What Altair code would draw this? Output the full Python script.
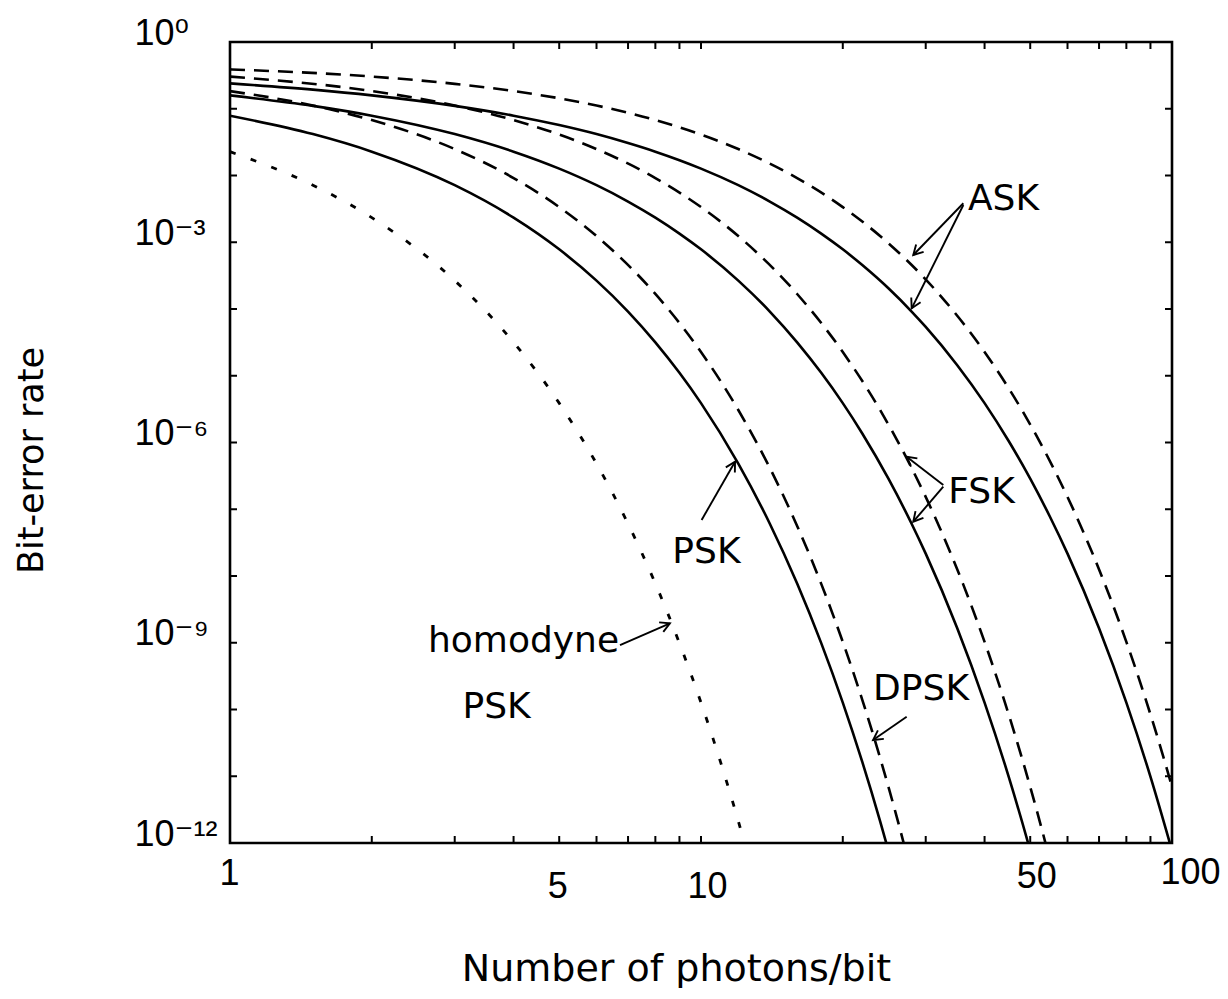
import altair as alt
import pandas as pd

W, H = 942, 801
FONT = "DejaVu Sans"
NUM_FONT = "Liberation Sans, DejaVu Sans"

# ---- curves: photons/bit (N) and log10(bit-error rate) ----
homodyne_psk_n = [1, 1.5, 2, 3, 4, 5, 6, 7, 8, 9, 10, 11, 12, 13]
homodyne_psk_log = [-1.643, -2.145, -2.631, -3.575, -4.499, -5.41, -6.317, -7.217,
                    -8.113, -9.006, -9.896, -10.785, -11.671, -12.557]

psk_n = [1, 1.5, 2, 3, 4, 5, 6, 7, 8, 9, 10, 12, 14, 16, 18, 20, 22, 24, 26]
psk_log = [-1.104, -1.380, -1.643, -2.145, -2.631, -3.106, -3.575, -4.038, -4.499,
           -4.956, -5.41, -6.317, -7.217, -8.113, -9.006, -9.896, -10.785, -11.671, -12.557]

fsk_n = [1, 1.5, 2, 3, 4, 5, 6, 7, 8, 9, 10, 12, 14, 16, 18, 20, 22, 25, 28, 30,
         35, 40, 45, 50, 55]
fsk_log = [-0.800, -0.957, -1.104, -1.380, -1.643, -1.897, -2.145, -2.390, -2.631,
           -2.870, -3.106, -3.575, -4.038, -4.499, -4.956, -5.41, -5.865, -6.542,
           -7.217, -7.665, -8.783, -9.896, -11.006, -12.114, -13.22]

ask_n = [1, 1.5, 2, 3, 4, 5, 6, 7, 8, 9, 10, 12, 14, 16, 18, 20, 22, 25, 28, 30,
         35, 40, 45, 50, 55, 60, 70, 80, 90, 100]
ask_log = [-0.620, -0.714, -0.800, -0.957, -1.104, -1.245, -1.380, -1.514, -1.643,
           -1.771, -1.897, -2.145, -2.390, -2.631, -2.870, -3.106, -3.342, -3.690,
           -4.038, -4.268, -4.842, -5.41, -5.978, -6.542, -7.105, -7.665, -8.783,
           -9.896, -11.006, -12.114]

dpsk_n = [1, 1.5, 2, 3, 4, 5, 6, 8, 10, 12, 14, 16, 18, 20, 22, 24, 26, 28]
dpsk_log = [-0.735, -0.952, -1.170, -1.604, -2.038, -2.473, -2.907, -3.775, -4.644,
            -5.513, -6.381, -7.250, -8.118, -8.987, -9.855, -10.724, -11.593, -12.461]

fsk_async_n = [1, 2, 3, 4, 6, 8, 10, 12, 16, 20, 24, 28, 32, 36, 40, 44, 48, 52, 56]
fsk_async_log = [-0.518, -0.735, -0.952, -1.170, -1.604, -2.038, -2.473, -2.907,
                 -3.775, -4.644, -5.513, -6.381, -7.250, -8.118, -8.987, -9.855,
                 -10.724, -11.593, -12.461]

ask_async_n = [1, 2, 3, 4, 6, 8, 12, 16, 20, 24, 32, 40, 48, 56, 64, 72, 80, 88, 96, 100]
ask_async_log = [-0.410, -0.518, -0.627, -0.735, -0.952, -1.170, -1.604, -2.038,
                 -2.473, -2.907, -3.775, -4.644, -5.513, -6.381, -7.250, -8.118,
                 -8.987, -9.855, -10.724, -11.158]

# ---- annotations ----
ann_text = ["ASK", "FSK", "PSK", "homodyne", "PSK", "DPSK"]
ann_n = [43.88, 39.41, 10.27, 4.20, 3.68, 29.32]
ann_log = [-2.517, -6.906, -7.805, -9.134, -10.127, -9.858]

arrow_tail_n = [36.06, 36.06, 32.69, 32.69, 10.03, 6.73, 27.33]
arrow_tail_log = [-2.416, -2.442, -6.637, -6.662, -7.161, -9.034, -10.108]
arrow_head_n = [28.23, 28.01, 27.33, 28.23, 11.81, 8.59, 23.19]
arrow_head_log = [-3.191, -3.990, -6.213, -7.187, -6.288, -8.709, -10.457]
arrow_angle = [224.0, 206.5, 307.7, 220.6, 29.7, 66.5, 235.3]

# ---- axes ----
x_label_vals = [1, 5, 10, 50, 100]
x_label_dx = [-1, -2, 6, 6, 18]
x_label_dy = [13, 26, 26, 16, 12]
y_label_vals = [1, 1e-3, 1e-6, 1e-9, 1e-12]
y_label_text = ["10⁰", "10⁻³", "10⁻⁶", "10⁻⁹", "10⁻¹²"]
x_minor_ticks = [2, 3, 4, 5, 6, 7, 8, 9, 10, 20, 30, 40, 50, 60, 70, 80, 90]
y_decade_ticks = [1e-1, 1e-2, 1e-3, 1e-4, 1e-5, 1e-6, 1e-7, 1e-8, 1e-9, 1e-10, 1e-11]


def curve_frame(name, ns, logs):
    return pd.DataFrame({"series": name, "n": ns, "logber": logs})


solid_df = pd.concat([curve_frame("PSK", psk_n, psk_log),
                      curve_frame("FSK", fsk_n, fsk_log),
                      curve_frame("ASK", ask_n, ask_log)])
dashed_df = pd.concat([curve_frame("DPSK", dpsk_n, dpsk_log),
                       curve_frame("FSK async", fsk_async_n, fsk_async_log),
                       curve_frame("ASK async", ask_async_n, ask_async_log)])
dotted_df = curve_frame("homodyne PSK", homodyne_psk_n, homodyne_psk_log)

ann_df = pd.DataFrame({"text": ann_text, "n": ann_n, "logber": ann_log})
arrow_df = pd.DataFrame({"n": arrow_tail_n, "logber": arrow_tail_log,
                         "n2": arrow_head_n, "logber2": arrow_head_log,
                         "angle": arrow_angle})
xt_df = pd.DataFrame({"n": x_minor_ticks})
yt_df = pd.DataFrame({"ber": y_decade_ticks})

xscale = alt.Scale(type="log", domain=[1, 100], nice=False)
yscale = alt.Scale(type="log", domain=[1e-12, 1], nice=False)


def cond(vals, offs, default):
    return {"condition": [{"test": f"datum.value == {v}", "value": o}
                          for v, o in zip(vals, offs)],
            "value": default}


y_expr = "[" + ",".join(f"'{t}'" for t in y_label_text) + "][round(-log(datum.value)/LN10/3)]"

x_axis = alt.Axis(values=x_label_vals, format="d", ticks=False, tickSize=0, domain=False,
                  grid=False, labelFont=NUM_FONT, labelFontSize=36, labelColor="black",
                  labelBaseline="top", labelFlush=False, labelOverlap=False,
                  labelPadding=cond(x_label_vals, x_label_dy, 13),
                  labelOffset=cond(x_label_vals, x_label_dx, 0),
                  title="Number of photons/bit", titleFont=FONT, titleFontSize=38,
                  titleFontWeight="normal", titleColor="black", titleX=446, titleY=137,
                  titleBaseline="alphabetic", titleAlign="center")
y_axis = alt.Axis(values=y_label_vals, labelExpr=y_expr, ticks=False, tickSize=0,
                  domain=False, grid=False, labelFont=NUM_FONT, labelFontSize=36,
                  labelColor="black", labelAlign="left", labelBaseline="middle",
                  labelPadding=96, labelOffset=-9, labelFlush=False, labelOverlap=False,
                  title="Bit-error rate", titleFont=FONT, titleFontSize=35,
                  titleFontWeight="normal", titleColor="black", titleX=-199, titleY=418,
                  titleAngle=270, titleBaseline="middle", titleAlign="center")


def X(field):
    return alt.X(field, scale=xscale, axis=x_axis)


def Y(field):
    return alt.Y(field, scale=yscale, axis=y_axis)


solid = alt.Chart(solid_df).transform_calculate(ber="pow(10, datum.logber)").mark_line(
    color="black", strokeWidth=2.6, clip=True, interpolate="monotone"
).encode(x=X("n:Q"), y=Y("ber:Q"), detail="series:N")

dashed = alt.Chart(dashed_df).transform_calculate(ber="pow(10, datum.logber)").mark_line(
    color="black", strokeWidth=2.6, clip=True, interpolate="monotone", strokeDash=[15, 9]
).encode(x=X("n:Q"), y=Y("ber:Q"), detail="series:N")

dotted = alt.Chart(dotted_df).transform_calculate(ber="pow(10, datum.logber)").mark_line(
    color="black", strokeWidth=2.8, clip=True, interpolate="monotone", strokeDash=[6, 16]
).encode(x=X("n:Q"), y=Y("ber:Q"))

labels = alt.Chart(ann_df).transform_calculate(ber="pow(10, datum.logber)").mark_text(
    font=FONT, fontSize=36, color="black", align="center", baseline="alphabetic"
).encode(x=X("n:Q"), y=Y("ber:Q"), text="text:N")

arrow_lines = alt.Chart(arrow_df).transform_calculate(
    ber="pow(10, datum.logber)", ber2="pow(10, datum.logber2)"
).mark_rule(color="black", strokeWidth=1.9).encode(
    x=X("n:Q"), y=Y("ber:Q"), x2="n2:Q", y2="ber2:Q")

arrow_heads = alt.Chart(arrow_df).transform_calculate(
    ber2="pow(10, datum.logber2)"
).mark_point(shape="M-0.55,1L0,0L0.55,1", filled=False, color="black",
             strokeWidth=1.9, size=360, opacity=1).encode(
    x=X("n2:Q"), y=Y("ber2:Q"), angle=alt.Angle("angle:Q", scale=None))

tick_style = dict(color="black", strokeWidth=2)
bottom_ticks = alt.Chart(xt_df).mark_rule(**tick_style).encode(
    x=X("n:Q"), y=alt.value(H), y2=alt.value(H - 7))
top_ticks = alt.Chart(xt_df).mark_rule(**tick_style).encode(
    x=X("n:Q"), y=alt.value(0), y2=alt.value(7))
left_ticks = alt.Chart(yt_df).mark_rule(**tick_style).encode(
    y=Y("ber:Q"), x=alt.value(0), x2=alt.value(7))
right_ticks = alt.Chart(yt_df).mark_rule(**tick_style).encode(
    y=Y("ber:Q"), x=alt.value(W), x2=alt.value(W - 7))

chart = alt.layer(
    solid, dashed, dotted, arrow_lines, arrow_heads, labels,
    bottom_ticks, top_ticks, left_ticks, right_ticks
).properties(
    width=W, height=H,
    padding={"left": 222, "top": 34, "right": 48, "bottom": 145},
    autosize=alt.AutoSizeParams(type="none"),
    background="white",
).configure_view(stroke="black", strokeWidth=2.6)

chart.save("out.html", embed_options={"renderer": "svg", "actions": False})
